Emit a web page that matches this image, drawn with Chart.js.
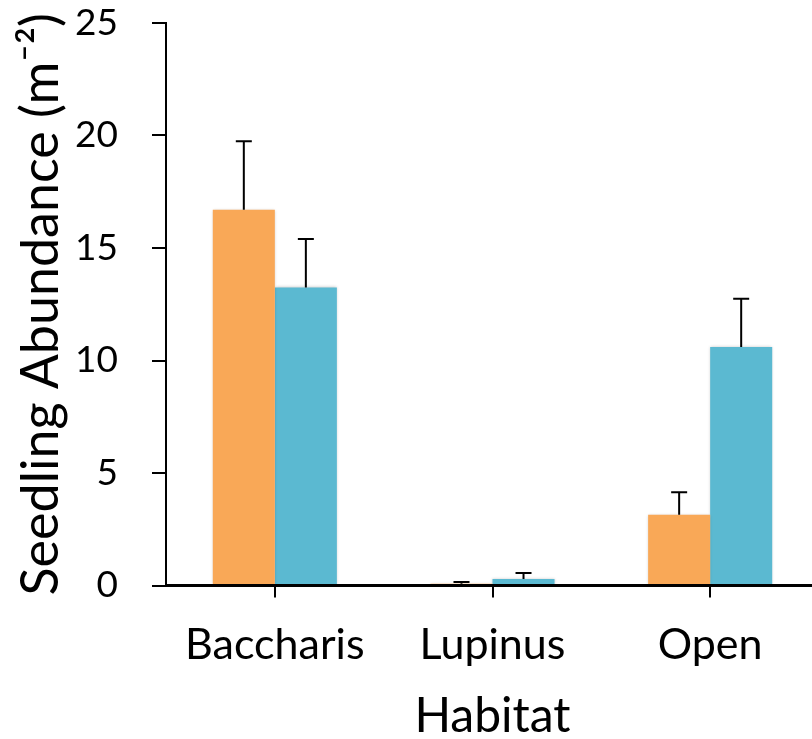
<!DOCTYPE html>
<html>
<head>
<meta charset="utf-8">
<script src="https://cdn.jsdelivr.net/npm/chart.js@4/dist/chart.umd.min.js"></script>
<style>
  html, body { margin: 0; padding: 0; background: #fff; overflow: hidden; }
  #wrap { width: 819px; height: 739px; position: relative; }
</style>
</head>
<body>
<div id="wrap"><canvas id="c"></canvas></div>
<script>
const categories = ["Baccharis", "Lupinus", "Open"];
const seriesA = [16.7, 0.08, 3.15];      // orange
const seriesAErr = [3.05, 0.08, 1.0];
const seriesB = [13.25, 0.29, 10.6];     // teal
const seriesBErr = [2.15, 0.27, 2.15];
const yTicks = [0, 5, 10, 15, 20, 25];

const FONT = "Lato, 'Open Sans', sans-serif";

const barShadow = {
  id: 'barShadow',
  beforeDatasetsDraw(chart) {
    const ctx = chart.ctx;
    ctx.save();
    ctx.shadowColor = 'rgba(0,0,0,0.22)';
    ctx.shadowBlur = 3;
    ctx.shadowOffsetX = 0;
    ctx.shadowOffsetY = 0;
  },
  afterDatasetsDraw(chart) {
    chart.ctx.restore();
  }
};

const errorBars = {
  id: 'errorBars',
  afterDatasetsDraw(chart) {
    const ctx = chart.ctx;
    const y = chart.scales.y;
    const errs = [seriesAErr, seriesBErr];
    ctx.save();
    ctx.shadowColor = 'transparent';
    ctx.strokeStyle = '#000';
    ctx.lineWidth = 2;
    chart.data.datasets.forEach((ds, di) => {
      const meta = chart.getDatasetMeta(di);
      meta.data.forEach((bar, i) => {
        const v = ds.data[i];
        const top = y.getPixelForValue(v + errs[di][i]);
        const base = y.getPixelForValue(v);
        ctx.beginPath();
        ctx.moveTo(bar.x, base);
        ctx.lineTo(bar.x, top);
        ctx.moveTo(bar.x - 8, top);
        ctx.lineTo(bar.x + 8, top);
        ctx.stroke();
      });
    });
    ctx.restore();
  }
};

new Chart(document.getElementById('c'), {
  type: 'bar',
  data: {
    labels: categories,
    datasets: [
      { data: seriesA, backgroundColor: 'rgb(249,168,87)', borderWidth: 0 },
      { data: seriesB, backgroundColor: 'rgb(91,185,209)', borderWidth: 0 }
    ]
  },
  options: {
    responsive: true,
    maintainAspectRatio: false,
    animation: false,
    layout: { padding: { top: 23, right: 0, left: 0, bottom: 0 } },
    plugins: { legend: { display: false }, tooltip: { enabled: false } },
    datasets: { bar: { categoryPercentage: 0.57, barPercentage: 1.0 } },
    scales: {
      x: {
        grid: { display: true, offset: false, drawOnChartArea: false, drawTicks: true, tickLength: 12, color: '#000', lineWidth: 2 },
        border: { display: true, color: '#000', width: 3, z: 1 },
        ticks: { color: '#000', font: { family: FONT, size: 43 }, padding: 22, maxRotation: 0 },
        title: { display: true, text: 'Habitat', color: '#000', font: { family: FONT, size: 48, lineHeight: 0.92 }, padding: { top: 0, bottom: 0 } },
        afterFit(scale) { scale.height = 153.5; }
      },
      y: {
        min: 0, max: 25,
        afterBuildTicks(scale) { scale.ticks = yTicks.map(v => ({ value: v })); },
        grid: { display: true, drawOnChartArea: false, drawTicks: true, tickLength: 14, color: '#000', lineWidth: 2 },
        border: { display: true, color: '#000', width: 2 },
        ticks: { color: '#000', font: { family: FONT, size: 37 }, padding: 34 },
        title: { display: true, text: 'Seedling Abundance (m⁻²)', color: '#000', font: { family: FONT, size: 52 }, padding: { top: 10, bottom: 0 } },
        afterFit(scale) { scale.width = 166; scale.paddingTop = 0; scale.paddingBottom = 0; }
      }
    }
  },
  plugins: [barShadow, errorBars]
});
</script>
</body>
</html>
